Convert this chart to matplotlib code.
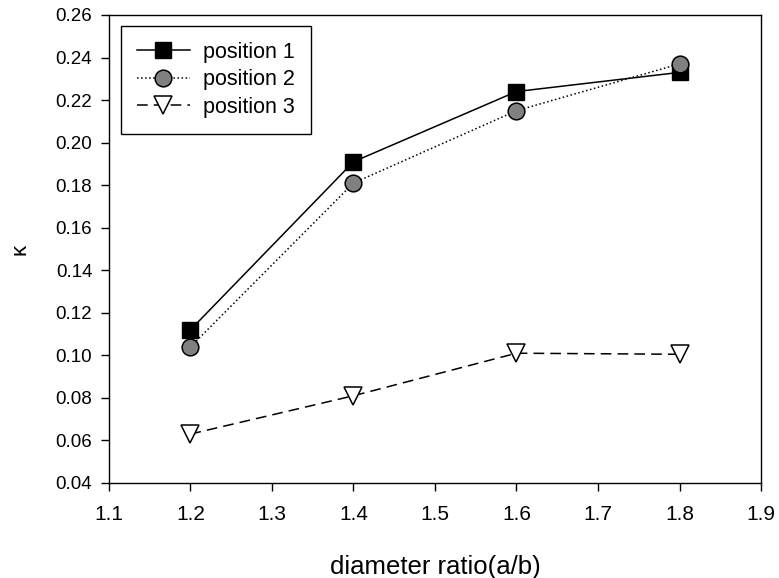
import matplotlib.pyplot as plt

plt.rcParams["font.family"] = ["Liberation Sans", "DejaVu Sans"]

ratio = [1.2, 1.4, 1.6, 1.8]
pos1 = [0.112, 0.191, 0.224, 0.233]
pos2 = [0.104, 0.181, 0.215, 0.237]
pos3 = [0.063, 0.081, 0.101, 0.1005]

xticks = [1.1, 1.2, 1.3, 1.4, 1.5, 1.6, 1.7, 1.8, 1.9]
yticks = [0.04, 0.06, 0.08, 0.10, 0.12, 0.14, 0.16, 0.18, 0.20, 0.22, 0.24, 0.26]

fig = plt.figure(figsize=(7.79, 5.78), dpi=100)
ax = fig.add_axes([0.1399, 0.1644, 0.837, 0.8097])

ax.plot(ratio, pos1, color="black", linestyle="-", linewidth=1.1,
        marker="s", markersize=11.5, markerfacecolor="black",
        markeredgecolor="black", label="position 1")
ax.plot(ratio, pos2, color="black", linestyle=":", linewidth=1.1,
        marker="o", markersize=12, markerfacecolor="#808080",
        markeredgecolor="black", markeredgewidth=1.1, label="position 2")
ax.plot(ratio, pos3, color="black", linestyle=(0, (7, 4)), linewidth=1.1,
        marker="v", markersize=13, markerfacecolor="white",
        markeredgecolor="black", markeredgewidth=1.1, label="position 3")

ax.set_xlim(1.1, 1.9)
ax.set_ylim(0.04, 0.26)
ax.set_xticks(xticks)
ax.set_yticks(yticks)
ax.set_xticklabels([f"{v:.1f}" for v in xticks])
ax.set_yticklabels([f"{v:.2f}" for v in yticks])
ax.tick_params(direction="out", length=6, width=1, top=False, right=False)
ax.tick_params(axis="y", labelsize=13.5, pad=6)
ax.tick_params(axis="x", labelsize=15, pad=10)
for s in ax.spines.values():
    s.set_linewidth(1)

ax.set_xlabel("diameter ratio(a/b)", fontsize=18.5, labelpad=22)
ax.set_ylabel("κ", fontsize=16, labelpad=18)

leg = ax.legend(loc="upper left", fontsize=15.5, fancybox=False, framealpha=1,
                edgecolor="black", handlelength=2.45, borderpad=0.75,
                labelspacing=0.3, handletextpad=0.6, borderaxespad=0,
                bbox_to_anchor=(0.018, 0.977))
leg.get_frame().set_linewidth(1)

fig.savefig("out.png", dpi=100)
